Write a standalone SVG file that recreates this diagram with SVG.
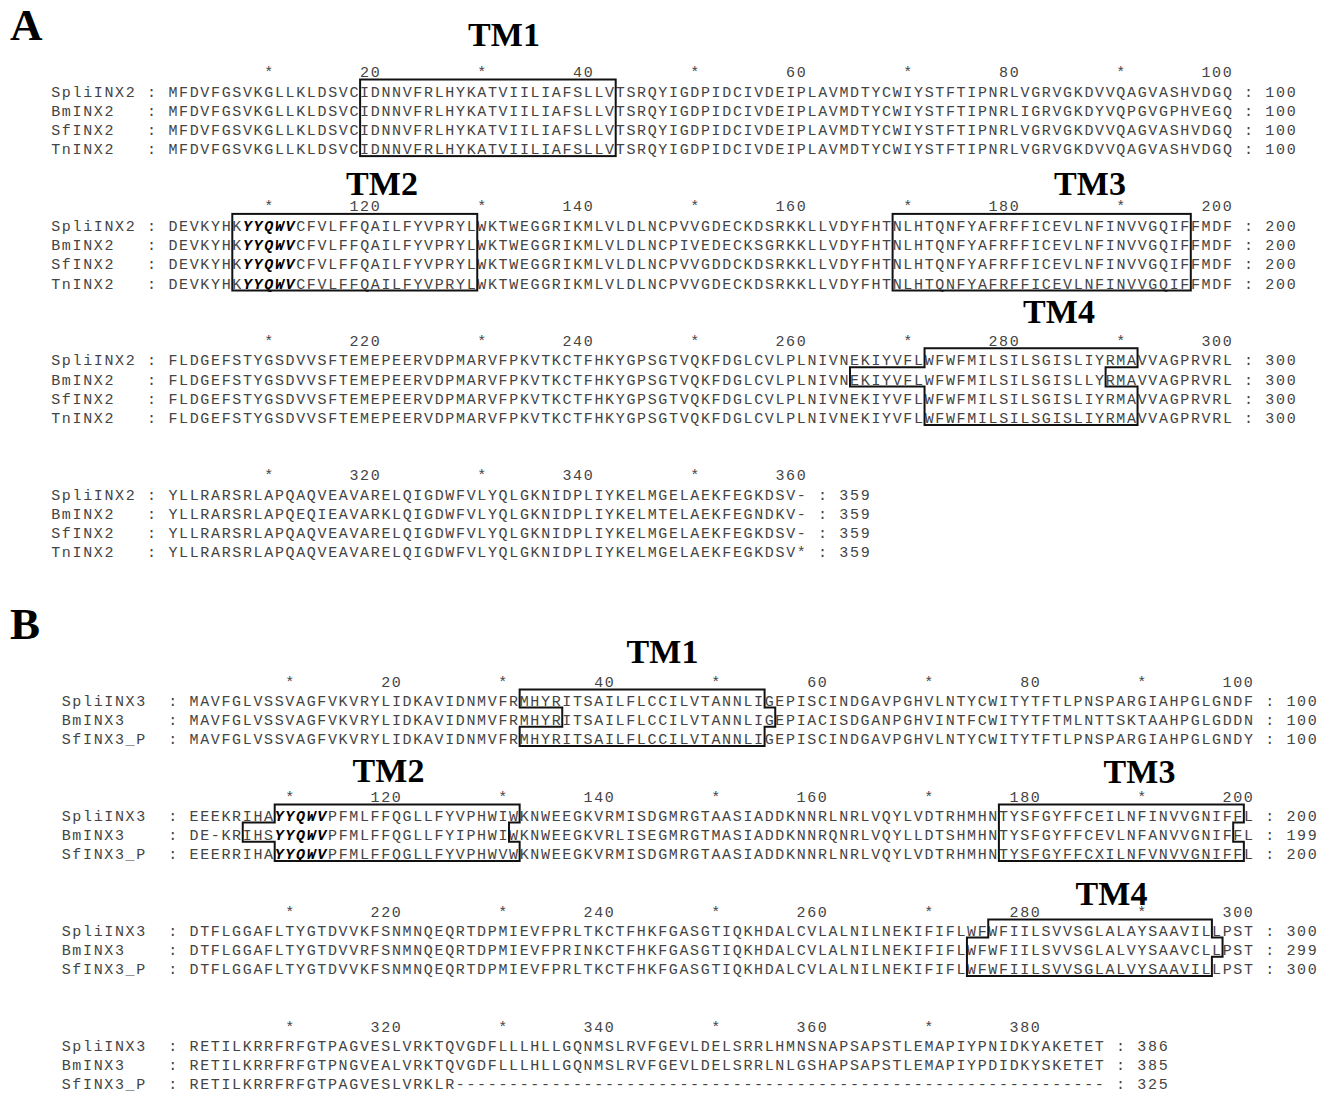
<svg xmlns="http://www.w3.org/2000/svg" width="1330" height="1094" viewBox="0 0 1330 1094">
<style>
.s{font-family:"Liberation Mono",monospace;font-size:15px;letter-spacing:1.65px;fill:#444}
.b{font-weight:bold;font-style:italic;fill:#000}
.tm{font-family:"Liberation Serif",serif;font-weight:bold;font-size:34px;fill:#000;text-anchor:middle}
.pl{font-family:"Liberation Serif",serif;font-weight:bold;font-size:45px;fill:#000}
.box{fill:none;stroke:#111;stroke-width:2}
</style>
<rect width="1330" height="1094" fill="#fff"/>
<g id="panelA">
<text class="pl" x="10" y="40">A</text>
<g id="A-labels">
<text class="tm" x="504" y="46">TM1</text>
<text class="tm" x="382" y="195">TM2</text>
<text class="tm" x="1090" y="195">TM3</text>
<text class="tm" x="1059" y="323">TM4</text>
</g>
<g id="A-block1">
<text class="s" y="77"><tspan x="264.25">*</tspan><tspan x="360.1">20</tspan><tspan x="477.25">*</tspan><tspan x="573.1">40</tspan><tspan x="690.25">*</tspan><tspan x="786.1">60</tspan><tspan x="903.25">*</tspan><tspan x="999.1">80</tspan><tspan x="1116.25">*</tspan><tspan x="1201.45">100</tspan></text>
<text class="s" y="96.5"><tspan x="51.2">SpliINX2</tspan><tspan x="147.1">:</tspan><tspan x="168.4">MFDVFGSVKGLLKLDSVCIDNNVFRLHYKATVIILIAFSLLVTSRQYIGDPIDCIVDEIPLAVMDTYCWIYSTFTIPNRLVGRVGKDVVQAGVASHVDGQ</tspan><tspan x="1244.05">:</tspan><tspan x="1265.35">100</tspan></text>
<text class="s" y="115.7"><tspan x="51.2">BmINX2</tspan><tspan x="147.1">:</tspan><tspan x="168.4">MFDVFGSVKGLLKLDSVCIDNNVFRLHYKATVIILIAFSLLVTSRQYIGDPIDCIVDEIPLAVMDTYCWIYSTFTIPNRLIGRVGKDYVQPGVGPHVEGQ</tspan><tspan x="1244.05">:</tspan><tspan x="1265.35">100</tspan></text>
<text class="s" y="134.9"><tspan x="51.2">SfINX2</tspan><tspan x="147.1">:</tspan><tspan x="168.4">MFDVFGSVKGLLKLDSVCIDNNVFRLHYKATVIILIAFSLLVTSRQYIGDPIDCIVDEIPLAVMDTYCWIYSTFTIPNRLVGRVGKDVVQAGVASHVDGQ</tspan><tspan x="1244.05">:</tspan><tspan x="1265.35">100</tspan></text>
<text class="s" y="154.1"><tspan x="51.2">TnINX2</tspan><tspan x="147.1">:</tspan><tspan x="168.4">MFDVFGSVKGLLKLDSVCIDNNVFRLHYKATVIILIAFSLLVTSRQYIGDPIDCIVDEIPLAVMDTYCWIYSTFTIPNRLVGRVGKDVVQAGVASHVDGQ</tspan><tspan x="1244.05">:</tspan><tspan x="1265.35">100</tspan></text>
</g>
<g id="A-block2">
<text class="s" y="211.4"><tspan x="264.25">*</tspan><tspan x="349.45">120</tspan><tspan x="477.25">*</tspan><tspan x="562.45">140</tspan><tspan x="690.25">*</tspan><tspan x="775.45">160</tspan><tspan x="903.25">*</tspan><tspan x="988.45">180</tspan><tspan x="1116.25">*</tspan><tspan x="1201.45">200</tspan></text>
<text class="s" y="230.9"><tspan x="51.2">SpliINX2</tspan><tspan x="147.1">:</tspan><tspan x="168.4">DEVKYHK<tspan class="b">YYQWV</tspan>CFVLFFQAILFYVPRYLWKTWEGGRIKMLVLDLNCPVVGDECKDSRKKLLVDYFHTNLHTQNFYAFRFFICEVLNFINVVGQIFFMDF</tspan><tspan x="1244.05">:</tspan><tspan x="1265.35">200</tspan></text>
<text class="s" y="250.1"><tspan x="51.2">BmINX2</tspan><tspan x="147.1">:</tspan><tspan x="168.4">DEVKYHK<tspan class="b">YYQWV</tspan>CFVLFFQAILFYVPRYLWKTWEGGRIKMLVLDLNCPIVEDECKSGRKKLLVDYFHTNLHTQNFYAFRFFICEVLNFINVVGQIFFMDF</tspan><tspan x="1244.05">:</tspan><tspan x="1265.35">200</tspan></text>
<text class="s" y="269.3"><tspan x="51.2">SfINX2</tspan><tspan x="147.1">:</tspan><tspan x="168.4">DEVKYHK<tspan class="b">YYQWV</tspan>CFVLFFQAILFYVPRYLWKTWEGGRIKMLVLDLNCPVVGDDCKDSRKKLLVDYFHTNLHTQNFYAFRFFICEVLNFINVVGQIFFMDF</tspan><tspan x="1244.05">:</tspan><tspan x="1265.35">200</tspan></text>
<text class="s" y="288.5"><tspan x="51.2">TnINX2</tspan><tspan x="147.1">:</tspan><tspan x="168.4">DEVKYHK<tspan class="b">YYQWV</tspan>CFVLFFQAILFYVPRYLWKTWEGGRIKMLVLDLNCPVVGDECKDSRKKLLVDYFHTNLHTQNFYAFRFFICEVLNFINVVGQIFFMDF</tspan><tspan x="1244.05">:</tspan><tspan x="1265.35">200</tspan></text>
</g>
<g id="A-block3">
<text class="s" y="345.8"><tspan x="264.25">*</tspan><tspan x="349.45">220</tspan><tspan x="477.25">*</tspan><tspan x="562.45">240</tspan><tspan x="690.25">*</tspan><tspan x="775.45">260</tspan><tspan x="903.25">*</tspan><tspan x="988.45">280</tspan><tspan x="1116.25">*</tspan><tspan x="1201.45">300</tspan></text>
<text class="s" y="365.3"><tspan x="51.2">SpliINX2</tspan><tspan x="147.1">:</tspan><tspan x="168.4">FLDGEFSTYGSDVVSFTEMEPEERVDPMARVFPKVTKCTFHKYGPSGTVQKFDGLCVLPLNIVNEKIYVFLWFWFMILSILSGISLIYRMAVVAGPRVRL</tspan><tspan x="1244.05">:</tspan><tspan x="1265.35">300</tspan></text>
<text class="s" y="384.5"><tspan x="51.2">BmINX2</tspan><tspan x="147.1">:</tspan><tspan x="168.4">FLDGEFSTYGSDVVSFTEMEPEERVDPMARVFPKVTKCTFHKYGPSGTVQKFDGLCVLPLNIVNEKIYVFLWFWFMILSILSGISLLYRMAVVAGPRVRL</tspan><tspan x="1244.05">:</tspan><tspan x="1265.35">300</tspan></text>
<text class="s" y="403.7"><tspan x="51.2">SfINX2</tspan><tspan x="147.1">:</tspan><tspan x="168.4">FLDGEFSTYGSDVVSFTEMEPEERVDPMARVFPKVTKCTFHKYGPSGTVQKFDGLCVLPLNIVNEKIYVFLWFWFMILSILSGISLIYRMAVVAGPRVRL</tspan><tspan x="1244.05">:</tspan><tspan x="1265.35">300</tspan></text>
<text class="s" y="422.9"><tspan x="51.2">TnINX2</tspan><tspan x="147.1">:</tspan><tspan x="168.4">FLDGEFSTYGSDVVSFTEMEPEERVDPMARVFPKVTKCTFHKYGPSGTVQKFDGLCVLPLNIVNEKIYVFLWFWFMILSILSGISLIYRMAVVAGPRVRL</tspan><tspan x="1244.05">:</tspan><tspan x="1265.35">300</tspan></text>
</g>
<g id="A-block4">
<text class="s" y="480.2"><tspan x="264.25">*</tspan><tspan x="349.45">320</tspan><tspan x="477.25">*</tspan><tspan x="562.45">340</tspan><tspan x="690.25">*</tspan><tspan x="775.45">360</tspan></text>
<text class="s" y="499.7"><tspan x="51.2">SpliINX2</tspan><tspan x="147.1">:</tspan><tspan x="168.4">YLLRARSRLAPQAQVEAVARELQIGDWFVLYQLGKNIDPLIYKELMGELAEKFEGKDSV-</tspan><tspan x="818.05">:</tspan><tspan x="839.35">359</tspan></text>
<text class="s" y="518.9"><tspan x="51.2">BmINX2</tspan><tspan x="147.1">:</tspan><tspan x="168.4">YLLRARSRLAPQEQIEAVARKLQIGDWFVLYQLGKNIDPLIYKELMTELAEKFEGNDKV-</tspan><tspan x="818.05">:</tspan><tspan x="839.35">359</tspan></text>
<text class="s" y="538.1"><tspan x="51.2">SfINX2</tspan><tspan x="147.1">:</tspan><tspan x="168.4">YLLRARSRLAPQAQVEAVARELQIGDWFVLYQLGKNIDPLIYKELMGELAEKFEGKDSV-</tspan><tspan x="818.05">:</tspan><tspan x="839.35">359</tspan></text>
<text class="s" y="557.3"><tspan x="51.2">TnINX2</tspan><tspan x="147.1">:</tspan><tspan x="168.4">YLLRARSRLAPQAQVEAVARELQIGDWFVLYQLGKNIDPLIYKELMGELAEKFEGKDSV*</tspan><tspan x="818.05">:</tspan><tspan x="839.35">359</tspan></text>
</g>
<g id="A-boxes">
<rect class="box" x="360.1" y="79.5" width="255.6" height="76.6"/>
<rect class="box" x="232.3" y="213.9" width="244.95" height="76.6"/>
<rect class="box" x="892.6" y="213.9" width="298.2" height="76.6"/>
<polygon class="box" points="924.55,348.3 1137.55,348.3 1137.55,367.3 1105.6,367.3 1105.6,386.5 1137.55,386.5 1137.55,424.9 924.55,424.9 924.55,386.5 850,386.5 850,367.3 924.55,367.3"/>
</g>
</g>
<g id="panelB">
<text class="pl" x="10" y="639">B</text>
<g id="B-labels">
<text class="tm" x="662.5" y="663">TM1</text>
<text class="tm" x="388.5" y="782">TM2</text>
<text class="tm" x="1139.5" y="783">TM3</text>
</g>
<g id="B-block1">
<text class="s" y="687"><tspan x="285.35">*</tspan><tspan x="381.2">20</tspan><tspan x="498.35">*</tspan><tspan x="594.2">40</tspan><tspan x="711.35">*</tspan><tspan x="807.2">60</tspan><tspan x="924.35">*</tspan><tspan x="1020.2">80</tspan><tspan x="1137.35">*</tspan><tspan x="1222.55">100</tspan></text>
<text class="s" y="705.5"><tspan x="61.7">SpliINX3</tspan><tspan x="168.2">:</tspan><tspan x="189.5">MAVFGLVSSVAGFVKVRYLIDKAVIDNMVFRMHYRITSAILFLCCILVTANNLIGEPISCINDGAVPGHVLNTYCWITYTFTLPNSPARGIAHPGLGNDF</tspan><tspan x="1265.15">:</tspan><tspan x="1286.45">100</tspan></text>
<text class="s" y="724.7"><tspan x="61.7">BmINX3</tspan><tspan x="168.2">:</tspan><tspan x="189.5">MAVFGLVSSVAGFVKVRYLIDKAVIDNMVFRMHYRITSAILFLCCILVTANNLIGEPIACISDGANPGHVINTFCWITYTFTMLNTTSKTAAHPGLGDDN</tspan><tspan x="1265.15">:</tspan><tspan x="1286.45">100</tspan></text>
<text class="s" y="743.9"><tspan x="61.7">SfINX3_P</tspan><tspan x="168.2">:</tspan><tspan x="189.5">MAVFGLVSSVAGFVKVRYLIDKAVIDNMVFRMHYRITSAILFLCCILVTANNLIGEPISCINDGAVPGHVLNTYCWITYTFTLPNSPARGIAHPGLGNDY</tspan><tspan x="1265.15">:</tspan><tspan x="1286.45">100</tspan></text>
</g>
<g id="B-block2">
<text class="s" y="802"><tspan x="285.35">*</tspan><tspan x="370.55">120</tspan><tspan x="498.35">*</tspan><tspan x="583.55">140</tspan><tspan x="711.35">*</tspan><tspan x="796.55">160</tspan><tspan x="924.35">*</tspan><tspan x="1009.55">180</tspan><tspan x="1137.35">*</tspan><tspan x="1222.55">200</tspan></text>
<text class="s" y="820.5"><tspan x="61.7">SpliINX3</tspan><tspan x="168.2">:</tspan><tspan x="189.5">EEEKRIHA<tspan class="b">YYQWV</tspan>PFMLFFQGLLFYVPHWIWKNWEEGKVRMISDGMRGTAASIADDKNNRLNRLVQYLVDTRHMHNTYSFGYFFCEILNFINVVGNIFFL</tspan><tspan x="1265.15">:</tspan><tspan x="1286.45">200</tspan></text>
<text class="s" y="839.7"><tspan x="61.7">BmINX3</tspan><tspan x="168.2">:</tspan><tspan x="189.5">DE-KRIHS<tspan class="b">YYQWV</tspan>PFMLFFQGLLFYIPHWIWKNWEEGKVRLISEGMRGTMASIADDKNNRQNRLVQYLLDTSHMHNTYSFGYFFCEVLNFANVVGNIFFL</tspan><tspan x="1265.15">:</tspan><tspan x="1286.45">199</tspan></text>
<text class="s" y="858.9"><tspan x="61.7">SfINX3_P</tspan><tspan x="168.2">:</tspan><tspan x="189.5">EEERRIHA<tspan class="b">YYQWV</tspan>PFMLFFQGLLFYVPHWVWKNWEEGKVRMISDGMRGTAASIADDKNNRLNRLVQYLVDTRHMHNTYSFGYFFCXILNFVNVVGNIFFL</tspan><tspan x="1265.15">:</tspan><tspan x="1286.45">200</tspan></text>
</g>
<g id="B-block3">
<text class="s" y="917"><tspan x="285.35">*</tspan><tspan x="370.55">220</tspan><tspan x="498.35">*</tspan><tspan x="583.55">240</tspan><tspan x="711.35">*</tspan><tspan x="796.55">260</tspan><tspan x="924.35">*</tspan><tspan x="1009.55">280</tspan><tspan x="1137.35">*</tspan><tspan x="1222.55">300</tspan></text>
<text class="s" y="935.5"><tspan x="61.7">SpliINX3</tspan><tspan x="168.2">:</tspan><tspan x="189.5">DTFLGGAFLTYGTDVVKFSNMNQEQRTDPMIEVFPRLTKCTFHKFGASGTIQKHDALCVLALNILNEKIFIFLWFWFIILSVVSGLALAYSAAVILLPST</tspan><tspan x="1265.15">:</tspan><tspan x="1286.45">300</tspan></text>
<text class="s" y="954.7"><tspan x="61.7">BmINX3</tspan><tspan x="168.2">:</tspan><tspan x="189.5">DTFLGGAFLTYGTDVVRFSNMNQEQRTDPMIEVFPRINKCTFHKFGASGTIQKHDALCVLALNILNEKIFIFLWFWFIILSVVSGLALVYSAAVCLLPST</tspan><tspan x="1265.15">:</tspan><tspan x="1286.45">299</tspan></text>
<text class="s" y="973.9"><tspan x="61.7">SfINX3_P</tspan><tspan x="168.2">:</tspan><tspan x="189.5">DTFLGGAFLTYGTDVVKFSNMNQEQRTDPMIEVFPRLTKCTFHKFGASGTIQKHDALCVLALNILNEKIFIFLWFWFIILSVVSGLALVYSAAVILLPST</tspan><tspan x="1265.15">:</tspan><tspan x="1286.45">300</tspan></text>
</g>
<text class="tm" x="1111.5" y="905">TM4</text>
<g id="B-block4">
<text class="s" y="1032"><tspan x="285.35">*</tspan><tspan x="370.55">320</tspan><tspan x="498.35">*</tspan><tspan x="583.55">340</tspan><tspan x="711.35">*</tspan><tspan x="796.55">360</tspan><tspan x="924.35">*</tspan><tspan x="1009.55">380</tspan></text>
<text class="s" y="1050.5"><tspan x="61.7">SpliINX3</tspan><tspan x="168.2">:</tspan><tspan x="189.5">RETILKRRFRFGTPAGVESLVRKTQVGDFLLLHLLGQNMSLRVFGEVLDELSRRLHMNSNAPSAPSTLEMAPIYPNIDKYAKETET</tspan><tspan x="1116.05">:</tspan><tspan x="1137.35">386</tspan></text>
<text class="s" y="1069.7"><tspan x="61.7">BmINX3</tspan><tspan x="168.2">:</tspan><tspan x="189.5">RETILKRRFRFGTPNGVEALVRKTQVGDFLLLHLLGQNMSLRVFGEVLDELSRRLNLGSHAPSAPSTLEMAPIYPDIDKYSKETET</tspan><tspan x="1116.05">:</tspan><tspan x="1137.35">385</tspan></text>
<text class="s" y="1088.9"><tspan x="61.7">SfINX3_P</tspan><tspan x="168.2">:</tspan><tspan x="189.5">RETILKRRFRFGTPAGVESLVRKLR-------------------------------------------------------------</tspan><tspan x="1116.05">:</tspan><tspan x="1137.35">325</tspan></text>
</g>
<g id="B-boxes">
<polygon class="box" points="519.65,689.5 764.6,689.5 764.6,707.5 775.25,707.5 775.25,726.7 764.6,726.7 764.6,745.9 519.65,745.9 519.65,726.7 562.25,726.7 562.25,707.5 519.65,707.5"/>
<polygon class="box" points="274.7,804.5 519.65,804.5 519.65,822.5 509,822.5 509,841.7 519.65,841.7 519.65,860.9 274.7,860.9 274.7,841.7 242.75,841.7 242.75,822.5 274.7,822.5"/>
<polygon class="box" points="998.9,804.5 1243.85,804.5 1243.85,822.5 1233.2,822.5 1233.2,841.7 1243.85,841.7 1243.85,860.9 998.9,860.9"/>
<polygon class="box" points="988.25,919.5 1211.9,919.5 1211.9,937.5 1222.55,937.5 1222.55,956.7 1211.9,956.7 1211.9,975.9 966.95,975.9 966.95,937.5 988.25,937.5"/>
</g>
</g>
</svg>
